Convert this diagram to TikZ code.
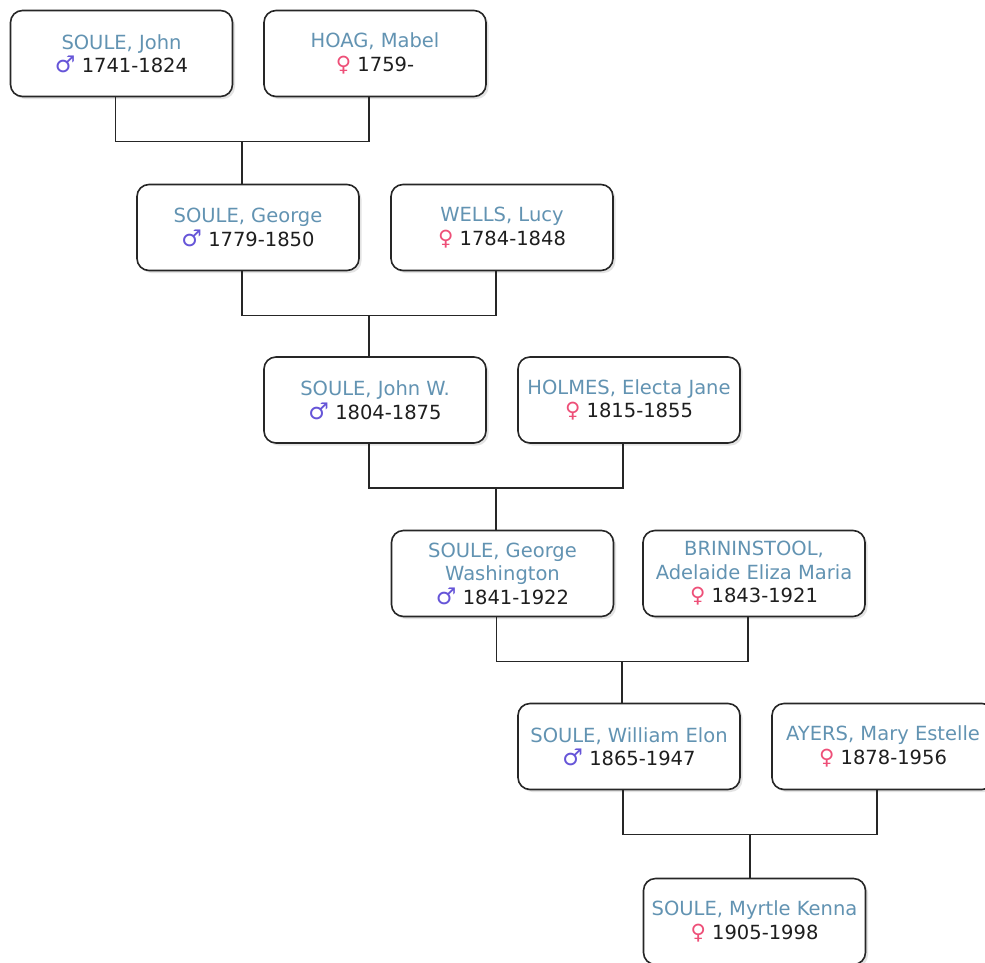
\documentclass[tikz,border=0pt]{standalone}
\usepackage{fontspec}
\setmainfont{DejaVu Sans}
\usetikzlibrary{calc,shadows}
\definecolor{namec}{HTML}{6293B2}
\definecolor{datec}{HTML}{1E1E1E}
\definecolor{malec}{HTML}{6655D8}
\definecolor{femc}{HTML}{EE4F78}
\newcommand{\nm}[1]{\textcolor{namec}{#1}}
\newcommand{\ml}[1]{{\fontsize{23}{23}\selectfont\textcolor{malec}{♂}}~\textcolor{datec}{#1}}
\newcommand{\fm}[1]{{\fontsize{21}{23}\selectfont\textcolor{femc}{♀}}~\textcolor{datec}{#1}}
\begin{document}
\begin{tikzpicture}[x=1pt,y=-1pt,
  person/.style={draw=black!85, line width=1.6pt, rounded corners=12pt, fill=white,
    minimum width=222pt, minimum height=86pt, align=center, inner sep=0pt,
    font=\fontsize{19.5}{23.5}\selectfont,
    drop shadow={opacity=0.22,shadow xshift=2.5pt,shadow yshift=-2.5pt}},
  link/.style={draw=black!85, line width=1.6pt}]
\fill[white] (0,0) rectangle (985,962);
\useasboundingbox (0,0) rectangle (985,962);

\node[person] (A)  at (121.5,53.5) {\nm{SOULE, John}\\\ml{1741-1824}};
\node[person] (B)  at (375,53.5)   {\nm{HOAG, Mabel}\\\fm{1759-}};
\node[person] (G)  at (248,227.5)  {\nm{SOULE, George}\\\ml{1779-1850}};
\node[person] (L)  at (502,227.5)  {\nm{WELLS, Lucy}\\\fm{1784-1848}};
\node[person] (JW) at (375,400)    {\nm{SOULE, John W.}\\\ml{1804-1875}};
\node[person] (E)  at (629,400)    {\nm{HOLMES, Electa Jane}\\\fm{1815-1855}};
\node[person] (GW) at (502.5,573.5){\nm{SOULE, George}\\\nm{Washington}\\\ml{1841-1922}};
\node[person] (Br) at (754,573.5)  {\nm{BRININSTOOL,}\\\nm{Adelaide Eliza Maria}\\\fm{1843-1921}};
\node[person] (W)  at (629,746.5)  {\nm{SOULE, William Elon}\\\ml{1865-1947}};
\node[person] (Ay) at (883,746.5)  {\nm{AYERS, Mary Estelle}\\\fm{1878-1956}};
\node[person] (M)  at (754.5,921.5){\nm{SOULE, Myrtle Kenna}\\\fm{1905-1998}};

\foreach \p/\q/\c/\j in {A/B/G/j1, G/L/JW/j2, JW/E/GW/j3, GW/Br/W/j4, W/Ay/M/j5}{
  \coordinate (\j) at ($([xshift=-6pt]\p.south)!0.5!([xshift=-6pt]\q.south)+(0,44)$);
  \draw[link] ([xshift=-6pt]\p.south) |- (\j) -| ([xshift=-6pt]\q.south);
  \draw[link] (\j) -- (\j |- \c.north);
}
\end{tikzpicture}
\end{document}
